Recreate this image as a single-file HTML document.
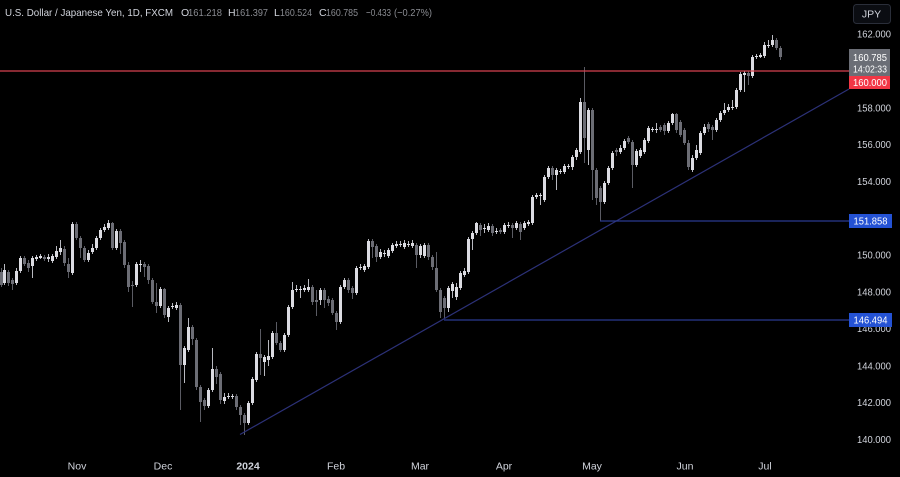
<!DOCTYPE html>
<html>
<head>
<meta charset="utf-8">
<style>
html,body{margin:0;padding:0;background:#000;}
body{width:900px;height:477px;overflow:hidden;}
svg{display:block;}
text{font-family:"Liberation Sans","DejaVu Sans",sans-serif;}
</style>
</head>
<body>
<svg id="c" width="900" height="477" viewBox="0 0 900 477" xmlns="http://www.w3.org/2000/svg">
<rect x="0" y="0" width="900" height="477" fill="#000"/>
<g id="candles"></g>
<!-- lines -->
<line x1="0" y1="71" x2="849" y2="71" stroke="#d8424f" stroke-width="1.2"/>
<line x1="240" y1="434.5" x2="849" y2="89" stroke="#2c3178" stroke-width="1.2"/>
<line x1="600" y1="221" x2="849" y2="221" stroke="#2b3a90" stroke-width="1.2"/>
<line x1="444" y1="320" x2="849" y2="320" stroke="#2b3a90" stroke-width="1.2"/>

<!-- header -->
<g font-size="10.5" fill="#d1d4dc">
<text x="5" y="16" textLength="168" lengthAdjust="spacingAndGlyphs">U.S. Dollar / Japanese Yen, 1D, FXCM</text>
<text x="181" y="16">O</text>
<text x="188" y="16" fill="#8a8c92" textLength="34" lengthAdjust="spacingAndGlyphs">161.218</text>
<text x="228" y="16">H</text>
<text x="235" y="16" fill="#8a8c92" textLength="33" lengthAdjust="spacingAndGlyphs">161.397</text>
<text x="274" y="16">L</text>
<text x="280" y="16" fill="#8a8c92" textLength="32" lengthAdjust="spacingAndGlyphs">160.524</text>
<text x="319" y="16">C</text>
<text x="326" y="16" fill="#8a8c92" textLength="32" lengthAdjust="spacingAndGlyphs">160.785</text>
<text x="366" y="16" fill="#8a8c92" textLength="25" lengthAdjust="spacingAndGlyphs">−0.433</text>
<text x="394" y="16" fill="#8a8c92" textLength="38" lengthAdjust="spacingAndGlyphs">(−0.27%)</text>
</g>

<!-- JPY button -->
<rect x="853.5" y="4.5" width="37" height="19" rx="3" ry="3" fill="#0b0d12" stroke="#2a2e39" stroke-width="1"/>
<text x="871.5" y="17.5" font-size="10.5" fill="#d1d4dc" text-anchor="middle">JPY</text>

<!-- price axis labels -->
<g font-size="10" fill="#d1d4dc" text-anchor="end">
<text x="891" y="37.5" textLength="34" lengthAdjust="spacingAndGlyphs">162.000</text>
<text x="891" y="111.3" textLength="34" lengthAdjust="spacingAndGlyphs">158.000</text>
<text x="891" y="148" textLength="34" lengthAdjust="spacingAndGlyphs">156.000</text>
<text x="891" y="185" textLength="34" lengthAdjust="spacingAndGlyphs">154.000</text>
<text x="891" y="258.5" textLength="34" lengthAdjust="spacingAndGlyphs">150.000</text>
<text x="891" y="295.3" textLength="34" lengthAdjust="spacingAndGlyphs">148.000</text>
<text x="891" y="332" textLength="34" lengthAdjust="spacingAndGlyphs">146.000</text>
<text x="891" y="369.3" textLength="34" lengthAdjust="spacingAndGlyphs">144.000</text>
<text x="891" y="406" textLength="34" lengthAdjust="spacingAndGlyphs">142.000</text>
<text x="891" y="443" textLength="34" lengthAdjust="spacingAndGlyphs">140.000</text>
</g>

<!-- price tags -->
<rect x="849" y="49" width="41" height="27" fill="#6b6e76"/>
<text x="870" y="61" font-size="10" fill="#ffffff" text-anchor="middle" textLength="34" lengthAdjust="spacingAndGlyphs">160.785</text>
<text x="870" y="72.5" font-size="10" fill="#ffffff" text-anchor="middle" textLength="34" lengthAdjust="spacingAndGlyphs">14:02:33</text>
<rect x="849" y="76" width="41" height="13" fill="#f23645"/>
<text x="870" y="86" font-size="10" fill="#ffffff" text-anchor="middle" textLength="34" lengthAdjust="spacingAndGlyphs">160.000</text>
<rect x="849" y="214" width="43" height="14" fill="#2452d4"/>
<text x="870.5" y="224.5" font-size="10" fill="#ffffff" text-anchor="middle" textLength="34" lengthAdjust="spacingAndGlyphs">151.858</text>
<rect x="849" y="313" width="43" height="14" fill="#2452d4"/>
<text x="870.5" y="323.5" font-size="10" fill="#ffffff" text-anchor="middle" textLength="34" lengthAdjust="spacingAndGlyphs">146.494</text>

<!-- time axis -->
<g font-size="10.5" fill="#d1d4dc" text-anchor="middle">
<text x="77" y="469.5">Nov</text>
<text x="163" y="469.5">Dec</text>
<text x="248" y="469.5" font-weight="bold">2024</text>
<text x="336" y="469.5">Feb</text>
<text x="420" y="469.5">Mar</text>
<text x="504" y="469.5">Apr</text>
<text x="592" y="469.5">May</text>
<text x="685" y="469.5">Jun</text>
<text x="765" y="469.5">Jul</text>
</g>
</svg>
<script>
(function(){
var D=[
[1,272,285,268,287],[4,283,270,264,285],[8,272,283,270,286],[12,280,284,278,290],[16,283,271,268,285],
[20,271,258,256,273],[24,258,264,256,266],[28,263,268,260,272],[32,266,258,256,278],[36,259,257,255,261],
[40,258,256,254,259],[44,257,259,255,261],[48,259,257,254,262],[52,261,256,254,263],[56,257,251,246,259],
[60,252,248,240,255],[64,249,263,246,266],[68,264,272,258,278],[72,273,224,222,275],[76,224,238,222,240],
[80,238,248,236,258],[84,248,260,246,262],[88,260,253,250,262],[92,252,248,244,254],[96,248,238,236,250],
[100,238,230,228,240],[104,230,227,224,232],[108,228,223,220,230],[112,223,248,222,250],[116,248,231,229,250],
[120,231,243,229,254],[124,242,265,240,268],[128,265,287,262,292],[132,285,286,281,307],[136,285,264,262,287],
[140,265,264,260,272],[144,264,267,262,277],[148,266,280,264,284],[152,280,302,278,304],[156,302,306,283,313],
[160,306,289,287,308],[164,289,315,288,318],[168,317,308,306,322],[172,307,306,303,309],[176,308,305,302,310],
[180,305,365,303,410],[184,365,348,346,383],[188,350,327,318,352],[192,327,339,325,345],[196,340,387,338,390],
[200,387,402,385,422],[204,400,406,398,410],[208,406,390,388,408],[212,390,369,348,392],[216,369,377,366,384],
[220,374,400,372,404],[224,401,397,393,404],[228,397,396,393,399],[232,397,396,394,399],[236,396,407,394,410],
[240,407,415,405,425],[244,415,423,413,435],[248,423,403,401,425],[252,403,379,377,405],[256,380,354,352,382],
[260,354,358,329,375],[264,362,357,355,376],[268,360,356,340,366],[272,357,333,331,359],[276,333,343,322,345],
[280,343,350,341,352],[284,350,335,333,352],[288,335,307,305,337],[292,307,290,282,309],[296,290,289,285,292],
[300,290,289,286,298],[304,290,288,285,292],[308,290,287,279,292],[312,287,302,285,305],[316,300,302,290,316],
[320,300,290,288,305],[324,290,300,288,308],[328,299,303,296,306],[332,300,313,298,315],[336,313,322,311,330],
[340,322,287,285,324],[344,287,280,278,289],[348,280,290,278,293],[352,288,293,286,299],[356,293,268,266,295],
[360,268,267,264,270],[364,270,266,264,272],[368,267,241,239,269],[372,241,247,239,258],[376,246,257,244,262],
[380,257,252,249,259],[384,254,253,250,257],[388,256,250,248,258],[392,251,245,243,253],[396,246,244,241,248],
[400,245,244,241,247],[404,247,243,240,249],[408,245,244,241,247],[412,246,243,240,248],[416,245,255,243,268],
[420,255,246,244,258],[424,256,245,243,258],[428,245,257,243,260],[432,257,267,255,270],[436,268,290,252,292],
[440,290,312,288,318],[444,298,308,296,319],[448,308,288,286,312],[452,291,284,282,298],[456,297,287,283,300],
[460,288,273,271,290],[464,275,271,268,277],[468,272,239,237,274],[472,239,233,231,250],[476,233,223,222,235],
[480,225,230,223,236],[484,229,228,224,233],[488,230,226,223,232],[492,226,233,224,236],[496,232,231,228,234],
[500,230,232,228,234],[504,232,225,223,234],[508,226,225,222,228],[512,225,228,223,238],[516,228,223,221,230],
[520,224,232,222,240],[524,228,223,221,230],[528,224,222,220,226],[532,223,197,195,225],[536,197,195,193,199],
[540,196,195,193,205],[544,200,177,175,202],[548,177,168,166,179],[552,168,175,166,180],[556,175,170,168,190],
[560,172,171,169,174],[564,172,166,164,174],[568,167,166,164,169],[572,167,157,155,170],[576,157,150,148,160],
[580,152,102,98,154],[584,102,138,67,163],[588,150,110,108,165],[592,110,170,108,200],[596,170,198,168,205],
[600,188,202,186,221],[604,202,183,181,204],[608,183,168,166,185],[612,168,153,151,170],[616,150,152,148,156],
[620,152,148,145,154],[624,148,141,139,150],[628,138,142,136,144],[632,142,165,140,188],[636,165,151,149,167],
[640,156,150,148,158],[644,152,140,138,154],[648,141,128,126,143],[652,130,129,127,132],[656,130,129,123,133],
[660,127,130,125,132],[664,125,131,123,135],[668,131,123,121,133],[672,123,114,113,125],[676,114,130,113,133],
[680,122,135,120,137],[684,130,143,128,145],[688,143,167,140,170],[692,170,158,155,172],[696,158,150,145,160],
[700,153,133,131,155],[704,133,127,124,135],[708,124,129,122,132],[712,127,130,125,140],[716,130,120,118,132],
[720,120,113,111,122],[724,113,110,103,115],[728,110,107,104,112],[732,108,107,100,110],[736,107,90,88,109],
[740,90,74,72,92],[744,75,73,71,92],[748,73,76,71,85],[752,76,57,55,78],[756,57,56,54,59],
[760,57,55,53,58],[764,56,45,42,58],[768,46,45,40,48],[772,45,40,35,47],[776,40,48,38,50],[780,48,57,46,60]
];
var g=document.getElementById('candles'),s='';
for(var i=0;i<D.length;i++){
 var d=D[i],cx=d[0],op=d[1],cl=d[2],hi=d[3],lo=d[4];
 var up=cl<=op;
 var col=up?'#dcdce2':'#6c6d75';
 var wc=up?'#b8b9c0':'#5a5b63';
 var by=Math.min(op,cl),bh=Math.max(1,Math.abs(op-cl));
 s+='<rect x="'+cx+'" y="'+hi+'" width="1" height="'+(lo-hi)+'" fill="'+wc+'"/>';
 s+='<rect x="'+(cx-1)+'" y="'+by+'" width="3" height="'+bh+'" fill="'+col+'"/>';
}
g.innerHTML=s;
})();
</script>
</body>
</html>
